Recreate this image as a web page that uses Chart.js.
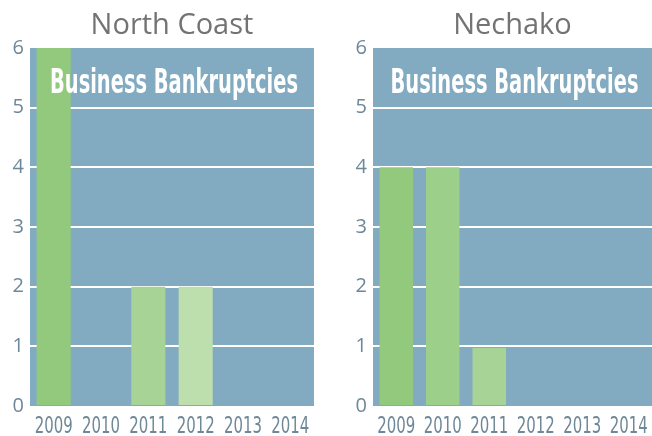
<!DOCTYPE html>
<html>
<head>
<meta charset="utf-8">
<script src="https://cdn.jsdelivr.net/npm/chart.js@4.4.1/dist/chart.umd.min.js"></script>
<style>
  html, body { margin: 0; padding: 0; background: #fff; }
  .wrap { position: absolute; top: 0; height: 436px; }
</style>
</head>
<body>
<div class="wrap" style="left:0;width:326px"><canvas id="northcoast"></canvas></div>
<div class="wrap" style="left:343px;width:309px"><canvas id="nechako"></canvas></div>
<script>
const years = ['2009', '2010', '2011', '2012', '2013', '2014'];
const northCoast = [6, 0, 2, 2, 0, 0];
const nechako = [4, 4, 0.97, 0, 0, 0];
const yTicks = [0, 1, 2, 3, 4, 5, 6];
const barColors = ['#93c97d', '#9ccf8a', '#a8d396', '#bddfae', '#c8e4bb', '#d0e8c5'];

const condensed = '"DejaVu Sans Condensed", "DejaVu Sans", sans-serif';

const panelBg = {
  id: 'panelBg',
  beforeDraw(chart) {
    const { ctx, chartArea: a } = chart;
    ctx.save();
    ctx.fillStyle = '#82abc1';
    ctx.fillRect(a.left, a.top, a.right - a.left, a.bottom - a.top);
    ctx.restore();
  },
  afterDatasetsDraw(chart) {
    const { ctx, chartArea: a } = chart;
    ctx.save();
    ctx.fillStyle = '#ffffff';
    ctx.font = 'bold 33px ' + condensed;
    ctx.textAlign = 'center';
    ctx.textBaseline = 'alphabetic';
    ctx.fillText('Business Bankruptcies', (a.left + a.right) / 2 + 2, a.top + 45, 248);
    ctx.restore();
  },
  afterDraw(chart) {
    // condensed year labels under each bar slot
    const { ctx } = chart;
    const x = chart.scales.x;
    ctx.save();
    ctx.fillStyle = '#6e8898';
    ctx.font = '23px ' + condensed;
    ctx.textAlign = 'center';
    ctx.textBaseline = 'alphabetic';
    years.forEach((yr, i) => {
      ctx.fillText(yr, x.getPixelForTick(i), x.top + 27, 38);
    });
    ctx.restore();
  }
};

const makeChart = (id, title, values, padRight) => {
  const ctx = document.getElementById(id).getContext('2d');
  return new Chart(ctx, {
    type: 'bar',
    data: {
      labels: years,
      datasets: [{
        data: values,
        backgroundColor: barColors,
        borderWidth: 0,
        barPercentage: 0.72,
        categoryPercentage: 1,
      }],
    },
    options: {
      responsive: true,
      maintainAspectRatio: false,
      animation: false,
      layout: { padding: { right: padRight } },
      plugins: {
        legend: { display: false },
        tooltip: { enabled: false },
        title: {
          display: true,
          text: title,
          fullSize: false,
          color: '#737373',
          font: { family: '"Open Sans", sans-serif', size: 29, weight: 'normal' },
          padding: { top: 8, bottom: 5.2 },
        },
      },
      scales: {
        y: {
          min: 0,
          max: 6,
          afterFit: (s) => { s.width = 30; },
          afterBuildTicks: (s) => { s.ticks = yTicks.map((v) => ({ value: v })); },
          border: { display: false },
          grid: {
            drawTicks: false,
            lineWidth: 2,
            color: (c) => (c.tick && c.tick.value > 0 && c.tick.value < 6 ? '#ffffff' : 'rgba(0,0,0,0)'),
          },
          ticks: {
            padding: 6,
            color: '#6e8898',
            font: { family: '"Open Sans", sans-serif', size: 20 },
          },
        },
        x: {
          afterFit: (s) => { s.height = 30; },
          border: { display: false },
          grid: { display: false, drawTicks: false },
          ticks: { display: false },
        },
      },
    },
    plugins: [panelBg],
  });
};

makeChart('northcoast', 'North Coast', northCoast, 12);
makeChart('nechako', 'Nechako', nechako, 0);
</script>
</body>
</html>
